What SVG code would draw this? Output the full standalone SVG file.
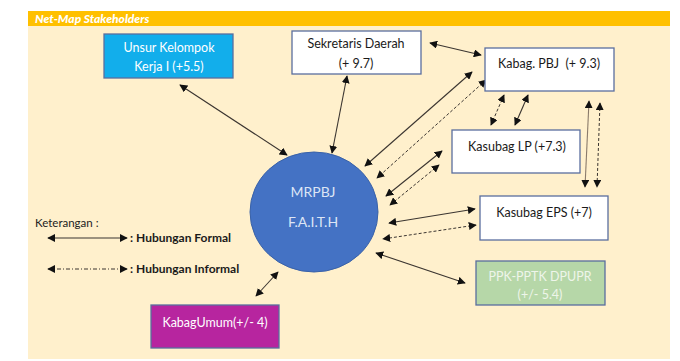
<svg xmlns="http://www.w3.org/2000/svg" width="680" height="361" viewBox="0 0 680 361">
<style>
text{font-family:Lato,"Open Sans","Liberation Sans",sans-serif;font-size:12.5px;text-anchor:middle}
.box{stroke:#5A6E9E;stroke-width:1.3}
.w{fill:#ffffff}
.lt{fill:#ffffff}
.dk{fill:#1a1a1a}
.f{stroke:#3b3530;stroke-width:1.1;fill:none;marker-start:url(#ah);marker-end:url(#ah)}
.i{stroke:#3b3530;stroke-width:1;stroke-dasharray:3,2;fill:none;marker-start:url(#ah);marker-end:url(#ah)}
.leg{text-anchor:start;font-weight:bold;font-size:12px}
</style>
<defs>
<marker id="ah" viewBox="0 0 10 10" refX="9" refY="5" markerWidth="8" markerHeight="8" markerUnits="userSpaceOnUse" orient="auto-start-reverse">
<path d="M0,0 L10,5 L0,10 z" fill="#111"/>
</marker>
</defs>
<rect x="0" y="0" width="680" height="361" fill="#ffffff"/>
<rect x="28" y="11" width="642" height="348" fill="#FFF0CC"/>
<rect x="28" y="11" width="642" height="15" fill="#FFC000"/>
<text x="35" y="23" style="text-anchor:start;font-weight:900;font-style:italic;font-size:12px;fill:#fff">Net-Map Stakeholders</text>

<g id="connectors">
<line class="f" x1="180" y1="85" x2="287" y2="155"/>
<line class="f" x1="347" y1="76" x2="332" y2="153"/>
<line class="f" x1="430" y1="43" x2="481" y2="55"/>
<line class="f" x1="472" y1="72" x2="365" y2="166"/>
<line class="i" x1="486" y1="80" x2="377" y2="178"/>
<line class="f" x1="442" y1="151" x2="386" y2="196"/>
<line class="i" x1="439" y1="165" x2="390" y2="205"/>
<line class="f" x1="475" y1="209" x2="389" y2="223"/>
<line class="i" x1="476" y1="225" x2="383" y2="239"/>
<line class="f" x1="376" y1="253" x2="465" y2="283"/>
<line class="f" x1="256" y1="296" x2="278" y2="272"/>
<line class="i" x1="504" y1="95" x2="491" y2="125"/>
<line class="f" x1="528" y1="95" x2="515" y2="125"/>
<line class="f" x1="589" y1="101" x2="585" y2="187" style="stroke:#8a7a6a"/>
<line class="i" x1="600" y1="103" x2="597" y2="187"/>
</g>

<g id="unsur">
<rect class="box" x="104" y="34" width="129" height="44" fill="#12AEEB"/>
<text class="lt" x="169" y="52">Unsur Kelompok</text>
<text class="lt" x="169" y="71">Kerja I (+5.5)</text>
</g>
<g id="sekda">
<rect class="box w" x="292" y="31" width="129" height="43"/>
<text class="dk" x="356" y="48">Sekretaris Daerah</text>
<text class="dk" x="356" y="68">(+ 9.7)</text>
</g>
<g id="kabagpbj">
<rect class="box w" x="485" y="48" width="129" height="43"/>
<text class="dk" x="549" y="68" xml:space="preserve">Kabag. PBJ  (+ 9.3)</text>
</g>
<g id="kasubaglp">
<rect class="box w" x="452" y="130" width="128" height="43"/>
<text class="dk" x="517" y="151">Kasubag LP (+7.3)</text>
</g>
<g id="kasubageps">
<rect class="box w" x="480" y="196" width="128" height="44"/>
<text class="dk" x="544" y="217">Kasubag EPS (+7)</text>
</g>
<g id="ppk">
<rect class="box" x="476" y="261" width="129" height="44" fill="#B6D7A8"/>
<text x="540" y="281" fill="#EEF5EA">PPK-PPTK DPUPR</text>
<text x="540" y="299" fill="#EEF5EA">(+/- 5.4)</text>
</g>
<g id="kabagumum">
<rect class="box" x="151" y="305" width="128" height="43" fill="#B7259F"/>
<text class="lt" x="215" y="327">KabagUmum(+/- 4)</text>
</g>
<g id="mrpbj">
<ellipse cx="314" cy="212" rx="64" ry="60" fill="#4472C4" stroke="#3A62A8" stroke-width="1"/>
<text x="313" y="197" fill="#DCE5F5" style="font-size:14px">MRPBJ</text>
<text x="313" y="227" fill="#DCE5F5" style="font-size:14px">F.A.I.T.H</text>
</g>
<g id="legend">
<text x="35" y="227" style="text-anchor:start;font-size:11.5px;fill:#222">Keterangan :</text>
<line class="f" x1="48" y1="238" x2="127" y2="238"/>
<text class="leg dk" x="130" y="242">: Hubungan Formal</text>
<line x1="48" y1="269" x2="127" y2="269" stroke="#3b3530" stroke-width="1" stroke-dasharray="4,2,1,2" marker-start="url(#ah)" marker-end="url(#ah)"/>
<text class="leg dk" x="130" y="273">: Hubungan Informal</text>
</g>
</svg>
